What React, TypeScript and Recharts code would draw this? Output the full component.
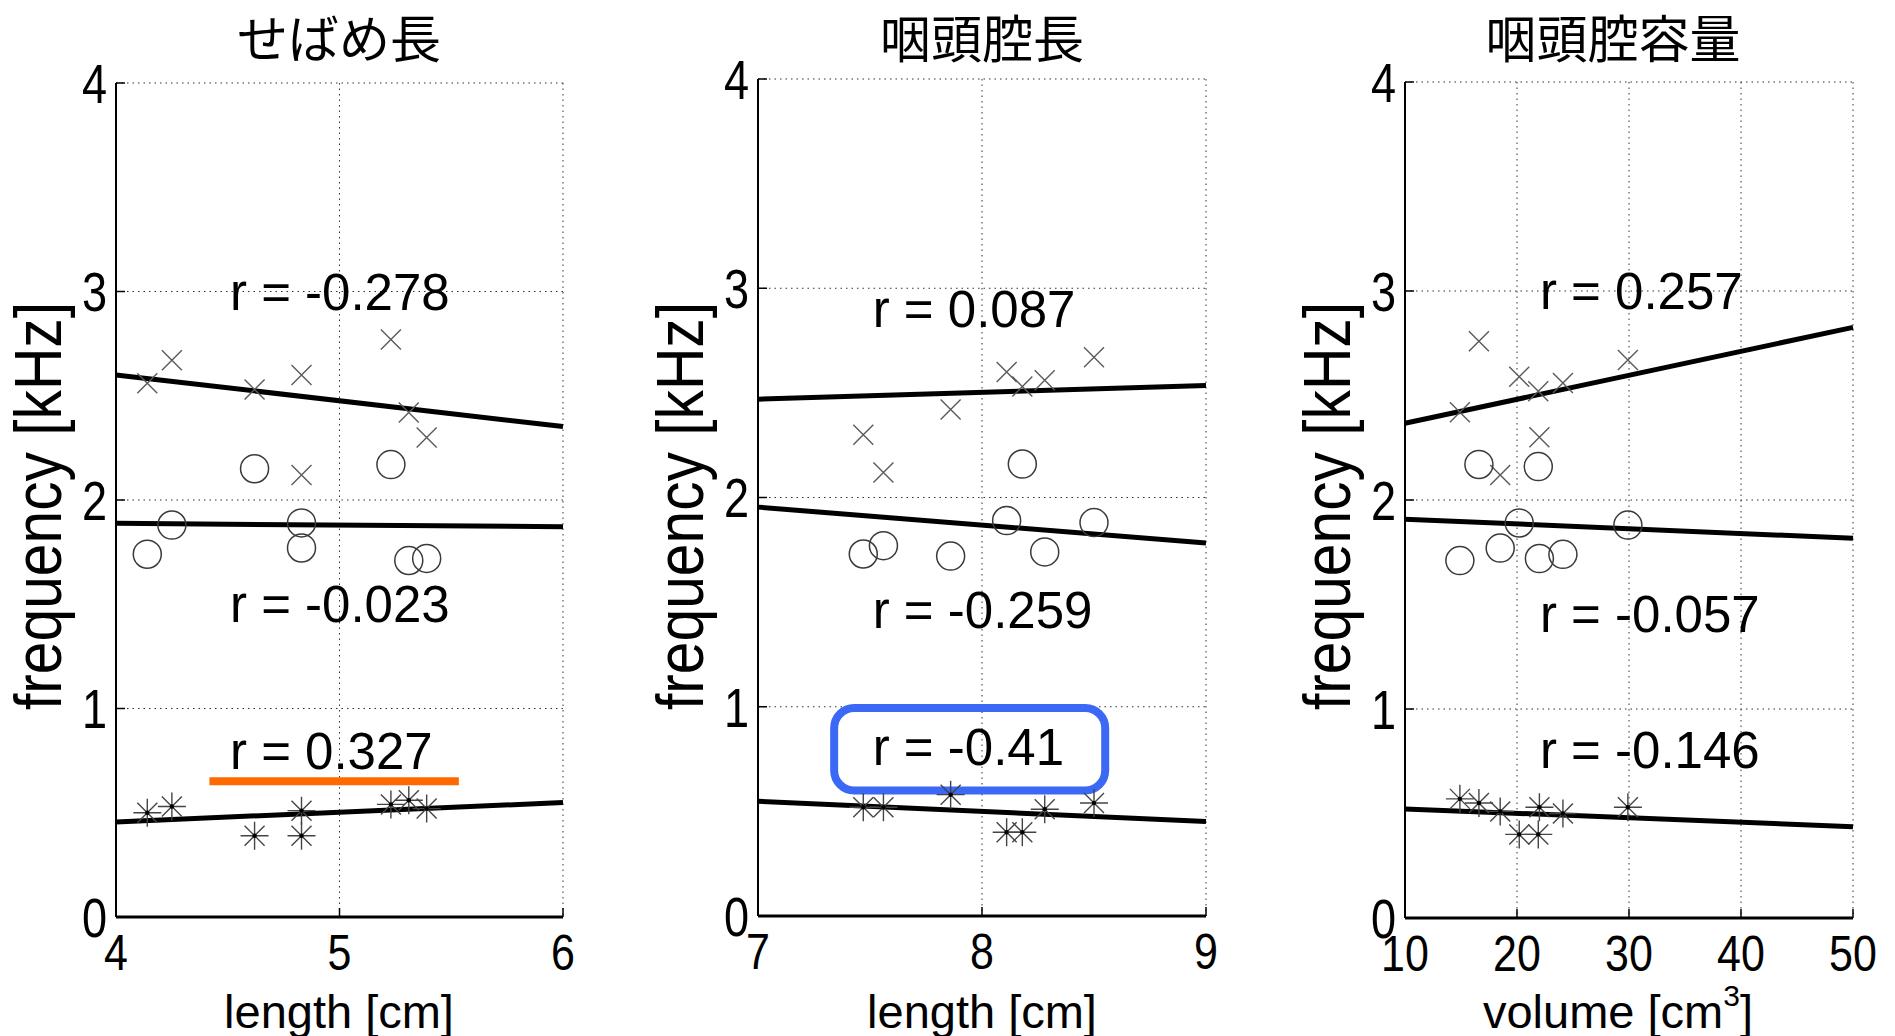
import React from "react";
import {
    ScatterChart,
    Scatter,
    XAxis,
    YAxis,
    CartesianGrid,
    ReferenceLine,
    ReferenceArea,
} from "recharts";

const W = 1895;
const H = 1036;
const LATIN = "'Liberation Sans', Arial, Helvetica, sans-serif";
const CJK = "'Noto Sans CJK JP', 'Noto Sans CJK SC', sans-serif";

const freqTicks = [0, 1, 2, 3, 4];

// せばめ長
const p1Title = "せばめ長";
const p1Ticks = [4, 5, 6];
const p1X = [4.14, 4.25, 4.62, 4.83, 4.83, 5.23, 5.31, 5.39];
const p1Cross = [2.56, 2.67, 2.53, 2.6, 2.12, 2.77, 2.42, 2.3];
const p1Circle = [1.74, 1.88, 2.15, 1.89, 1.77, 2.17, 1.71, 1.72];
const p1Star = [0.5, 0.53, 0.39, 0.51, 0.39, 0.54, 0.56, 0.52];
const p1Fits = [[2.6, 2.352], [1.888, 1.872], [0.456, 0.549]];
const p1Labels = ["r = -0.278", "r = -0.023", "r = 0.327"];
const p1LabelY = [2.913, 1.415, 0.712];
const p1LabelX = 4.51;

// 咽頭腔長
const p2Title = "咽頭腔長";
const p2Ticks = [7, 8, 9];
const p2X = [7.47, 7.56, 7.86, 8.11, 8.18, 8.28, 8.5];
const p2Cross = [2.3, 2.12, 2.42, 2.6, 2.53, 2.56, 2.67];
const p2Circle = [1.73, 1.77, 1.72, 1.89, 2.16, 1.74, 1.88];
const p2Star = [0.52, 0.52, 0.58, 0.4, 0.4, 0.51, 0.54];
const p2Fits = [[2.47, 2.535], [1.954, 1.782], [0.548, 0.452]];
const p2Labels = ["r = 0.087", "r = -0.259", "r = -0.41"];
const p2LabelY = [2.817, 1.376, 0.723];
const p2LabelX = 7.512;

// 咽頭腔容量
const p3Title = "咽頭腔容量";
const p3Ticks = [10, 20, 30, 40, 50];
const p3X = [14.9, 16.6, 18.5, 20.2, 21.9, 22.0, 24.1, 29.9];
const p3Cross = [2.42, 2.76, 2.12, 2.59, 2.52, 2.3, 2.56, 2.67];
const p3Circle = [1.71, 2.17, 1.77, 1.89, 2.16, 1.72, 1.74, 1.88];
const p3Star = [0.57, 0.55, 0.51, 0.4, 0.4, 0.53, 0.5, 0.53];
const p3Fits = [[2.367, 2.826], [1.908, 1.817], [0.522, 0.437]];
const p3Labels = ["r = 0.257", "r = -0.057", "r = -0.146"];
const p3LabelY = [2.912, 1.37, 0.716];
const p3LabelX = 22.05;

// highlights: orange underline [x1, x2, y], blue box [x1, x2, y1, y2]
const underline1 = [4.418, 5.534, 0.651];
const box2 = [7.34, 8.55, 0.6, 0.994];

const toPoints = (xs, ys) => xs.map((x, i) => ({ x, y: ys[i] }));

function CrossMark({ cx, cy }) {
    const s = 10;
    return (
        <path
            d={`M${cx - s},${cy - s}L${cx + s},${cy + s}M${cx - s},${cy + s}L${cx + s},${cy - s}`}
            stroke="#5a5a5a"
            strokeWidth={1.4}
            fill="none"
        />
    );
}

function CircleMark({ cx, cy }) {
    return <circle cx={cx} cy={cy} r={14} stroke="#3a3a3a" strokeWidth={1.5} fill="none" />;
}

function StarMark({ cx, cy }) {
    return (
        <g>
            <path
                d={`M${cx - 14},${cy}H${cx + 14}M${cx},${cy - 14}V${cy + 14}M${cx - 10},${cy - 10}L${cx + 10},${cy + 10}M${cx - 10},${cy + 10}L${cx + 10},${cy - 10}`}
                stroke="#444"
                strokeWidth={1.4}
                fill="none"
            />
            <circle cx={cx} cy={cy} r={2.2} fill="#000" />
        </g>
    );
}

function RLabel({ cx, cy, payload }) {
    return (
        <text x={cx} y={cy} fontSize={51} fontFamily={LATIN} fill="#000">
            {payload.text}
        </text>
    );
}

// tick digits in the original are tall and narrow
function XTick({ x, y, payload }) {
    return (
        <text
            transform={`translate(${x},${y}) scale(0.86,1)`}
            dy="0.72em" textAnchor="middle" fontSize={50} fontFamily={LATIN} fill="#000"
        >
            {payload.value}
        </text>
    );
}

function YTick({ x, y, payload }) {
    return (
        <text
            transform={`translate(${x},${y}) scale(0.82,1)`}
            dy="0.36em" textAnchor="end" fontSize={55} fontFamily={LATIN} fill="#000"
        >
            {payload.value}
        </text>
    );
}

function RoundBox({ x, y, width, height }) {
    return (
        <rect x={x} y={y} width={width} height={height} rx={20} ry={20} fill="none" stroke="#3b68f5" strokeWidth={8} />
    );
}

const panels = [
    {
        left: 0, width: 630, plot: { l: 116, r: 563, t: 83, b: 917 },
        ticks: p1Ticks, xs: p1X, cross: p1Cross, circle: p1Circle, star: p1Star,
        fits: p1Fits, labels: p1Labels, labelY: p1LabelY, labelX: p1LabelX,
        underline: underline1,
    },
    {
        left: 640, width: 620, plot: { l: 758, r: 1206, t: 79, b: 916 },
        ticks: p2Ticks, xs: p2X, cross: p2Cross, circle: p2Circle, star: p2Star,
        fits: p2Fits, labels: p2Labels, labelY: p2LabelY, labelX: p2LabelX,
        box: box2,
    },
    {
        left: 1275, width: 620, plot: { l: 1405, r: 1853, t: 82, b: 918 },
        ticks: p3Ticks, xs: p3X, cross: p3Cross, circle: p3Circle, star: p3Star,
        fits: p3Fits, labels: p3Labels, labelY: p3LabelY, labelX: p3LabelX,
    },
];

function Panel({ cfg }) {
    const { plot, ticks } = cfg;
    const domain = [ticks[0], ticks[ticks.length - 1]];
    const margin = {
        top: plot.t,
        bottom: H - plot.b - 60,
        left: plot.l - cfg.left - 60,
        right: cfg.left + cfg.width - plot.r,
    };
    const labelData = cfg.labels.map((text, i) => ({ x: cfg.labelX, y: cfg.labelY[i], text }));
    const axisLine = { stroke: "#000", strokeWidth: 2 };
    const tickLine = { stroke: "#000", strokeWidth: 1.5 };

    return (
        <div style={{ position: "absolute", left: cfg.left, top: 0 }}>
            <ScatterChart width={cfg.width} height={H} margin={margin}>
                <CartesianGrid stroke="#333" strokeDasharray="1.5 4" />
                <XAxis
                    dataKey="x" type="number" domain={domain} ticks={ticks} allowDataOverflow
                    interval={0} height={60} tickSize={-9} tickMargin={26}
                    axisLine={{ stroke: "#000", strokeWidth: 3 }} tickLine={tickLine} tick={<XTick />}
                />
                <XAxis
                    xAxisId="top" orientation="top" type="number" domain={domain} ticks={ticks}
                    allowDataOverflow interval={0} height={0} tickSize={-9} tick={false}
                    axisLine={axisLine} tickLine={tickLine}
                />
                <YAxis
                    dataKey="y" type="number" domain={[0, 4]} ticks={freqTicks} allowDataOverflow
                    interval={0} width={60} tickSize={-9} tickMargin={18}
                    axisLine={axisLine} tickLine={tickLine} tick={<YTick />}
                />
                <YAxis
                    yAxisId="right" orientation="right" type="number" domain={[0, 4]} ticks={freqTicks}
                    allowDataOverflow interval={0} width={0} tickSize={-9} tick={false}
                    axisLine={axisLine} tickLine={tickLine}
                />
                {cfg.fits.map((f, i) => (
                    <ReferenceLine
                        key={`fit-${i}`}
                        segment={[{ x: domain[0], y: f[0] }, { x: domain[1], y: f[1] }]}
                        stroke="#000" strokeWidth={5} ifOverflow="visible"
                    />
                ))}
                <Scatter data={toPoints(cfg.xs, cfg.cross)} shape={CrossMark} isAnimationActive={false} />
                <Scatter data={toPoints(cfg.xs, cfg.circle)} shape={CircleMark} isAnimationActive={false} />
                <Scatter data={toPoints(cfg.xs, cfg.star)} shape={StarMark} isAnimationActive={false} />
                <Scatter data={labelData} shape={RLabel} isAnimationActive={false} />
                {cfg.underline && (
                    <ReferenceLine
                        segment={[{ x: cfg.underline[0], y: cfg.underline[2] }, { x: cfg.underline[1], y: cfg.underline[2] }]}
                        stroke="#ff6a00" strokeWidth={8} ifOverflow="visible"
                    />
                )}
                {cfg.box && (
                    <ReferenceArea
                        x1={cfg.box[0]} x2={cfg.box[1]} y1={cfg.box[2]} y2={cfg.box[3]}
                        shape={RoundBox} ifOverflow="visible"
                    />
                )}
            </ScatterChart>
        </div>
    );
}

export default function App() {
    const titles = [
        { text: p1Title, x: 339 },
        { text: p2Title, x: 982 },
        { text: p3Title, x: 1613 },
    ];
    const yLabelX = [61, 703, 1350];
    const xLabelX = [339, 982, 1618];

    return (
        <div style={{ position: "absolute", left: 0, top: 0, width: W, height: H, background: "#fff", overflow: "hidden" }}>
            {panels.map((p, i) => (
                <Panel key={i} cfg={p} />
            ))}
            <svg width={W} height={H} style={{ position: "absolute", left: 0, top: 0, pointerEvents: "none" }}>
                {titles.map((t, i) => (
                    <text key={`t${i}`} x={t.x} y={36} textAnchor="middle" dominantBaseline="central" fontSize={51} fontFamily={CJK} fill="#000">
                        {t.text}
                    </text>
                ))}
                {yLabelX.map((x, i) => (
                    <text key={`y${i}`} transform={`translate(${x},506) rotate(-90) scale(0.89,1)`} textAnchor="middle" fontSize={66} fontFamily={LATIN} fill="#000">
                        frequency [kHz]
                    </text>
                ))}
                <text x={xLabelX[0]} y={1028} textAnchor="middle" fontSize={47} fontFamily={LATIN} fill="#000">length [cm]</text>
                <text x={xLabelX[1]} y={1028} textAnchor="middle" fontSize={47} fontFamily={LATIN} fill="#000">length [cm]</text>
                <text x={xLabelX[2]} y={1028} textAnchor="middle" fontSize={47} fontFamily={LATIN} fill="#000">
                    volume [cm<tspan fontSize={30} dy={-22}>3</tspan><tspan dy={22}>]</tspan>
                </text>
            </svg>
        </div>
    );
}
